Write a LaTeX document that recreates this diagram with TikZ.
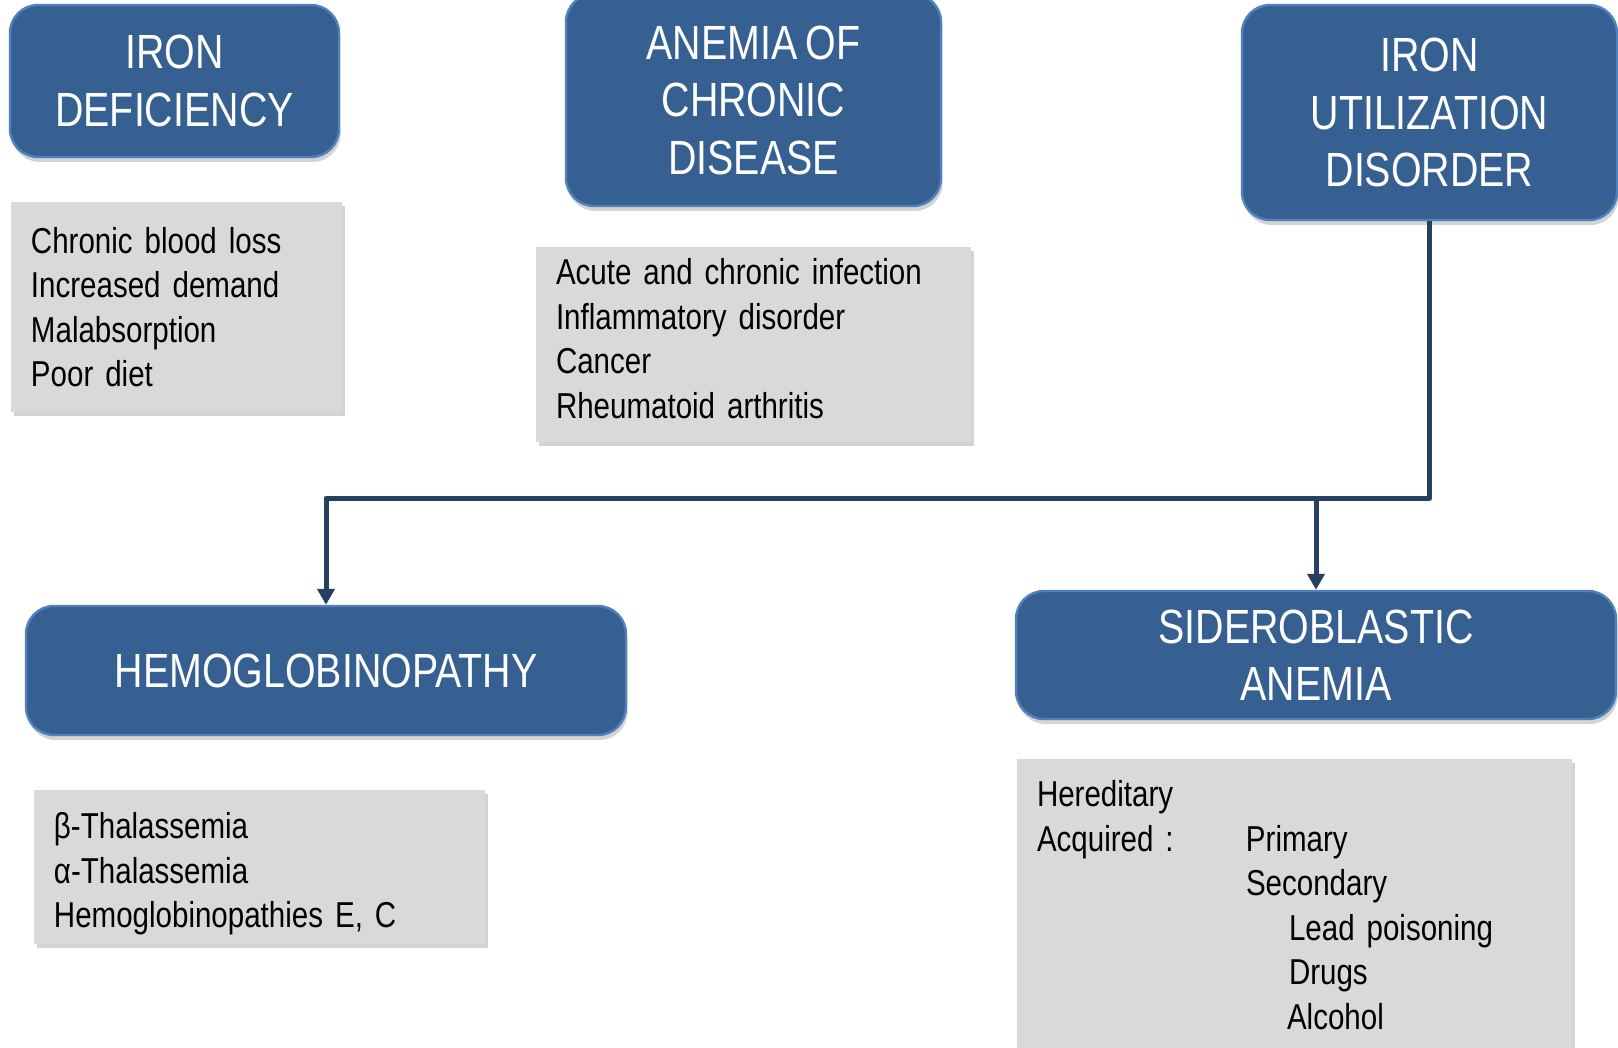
\documentclass[tikz,border=0pt]{standalone}
\usepackage{fontspec}
\setmainfont[FakeStretch=0.82,WordSpace=0.8]{Liberation Sans}
\usetikzlibrary{arrows.meta,shadows}

\definecolor{headblue}{RGB}{55,96,146}
\definecolor{headedge}{RGB}{79,129,189}
\definecolor{causegray}{RGB}{217,217,217}
\definecolor{linknavy}{RGB}{37,64,97}

\tikzset{
  head/.style={draw=headedge, line width=1.2pt, fill=headblue, rounded corners=14pt,
    text=white, align=center, inner sep=0pt,
    font=\fontsize{24pt}{28.75pt}\selectfont,
    drop shadow={shadow xshift=0.8pt, shadow yshift=-2.5pt, opacity=0.35}},
  causes/.style={fill=causegray, align=left, inner xsep=10pt, inner ysep=0pt,
    font=\fontsize{18pt}{22.25pt}\selectfont,
    drop shadow={shadow xshift=1.5pt, shadow yshift=-2pt, opacity=0.35}},
  link/.style={draw=linknavy, line width=2.5pt, line join=round,
    -{Triangle[width=8.5pt,length=8pt]}}
}

\begin{document}
\begin{tikzpicture}[x=0.5pt,y=-0.5pt]
\useasboundingbox (0,0) rectangle (1618,1048);

%Heads
\node[head, minimum width=164.5pt, minimum height=76pt] (irondef) at (174.5,81) {IRON\\DEFICIENCY};
\node[head, minimum width=187.5pt, minimum height=106pt] (chronic) at (753.5,100) {ANEMIA OF\\CHRONIC\\DISEASE};
\node[head, minimum width=187.5pt, minimum height=107.5pt] (ironuse) at (1429.5,112.5) {IRON\\UTILIZATION\\DISORDER};
\node[head, minimum width=300pt, minimum height=64.5pt] (hemo) at (326,670.5) {HEMOGLOBINOPATHY};
\node[head, minimum width=300pt, minimum height=64pt] (sidero) at (1316,655) {SIDEROBLASTIC\\ANEMIA};

%Causes
\node[causes, minimum width=165.5pt, minimum height=105pt, text width=145.5pt] (irondefcauses) at (176.5,307)
  {Chronic blood loss\\Increased demand\\Malabsorption\\Poor diet};
\node[causes, minimum width=217.5pt, minimum height=97.5pt, text width=197.5pt] (chroniccauses) at (753.5,344.5)
  {\raisebox{4pt}{}Acute and chronic infection\\Inflammatory disorder\\Cancer\\Rheumatoid arthritis\rule[-6pt]{0pt}{6pt}};
\node[causes, minimum width=225.5pt, minimum height=77pt, text width=205.5pt] (hemocauses) at (259.5,867)
  {\rule{0pt}{20pt}β-Thalassemia\\α-Thalassemia\\Hemoglobinopathies E, C};
\node[causes, minimum width=277.5pt, minimum height=146pt, text width=257.5pt] (siderocauses) at (1294.5,905)
  {Hereditary\\
   \makebox[104.5pt][l]{Acquired :}Primary\\
   \hspace*{104.5pt}Secondary\\
   \hspace*{126pt}Lead poisoning\\
   \hspace*{126pt}Drugs\\
   \hspace*{125pt}Alcohol};

%Connectors
\coordinate (split) at (0,498);
\draw[link] (ironuse.south) |- (hemo.north |- split) -- (hemo.north);
\draw[link] (sidero.north |- split) -- (sidero.north);

\end{tikzpicture}
\end{document}
